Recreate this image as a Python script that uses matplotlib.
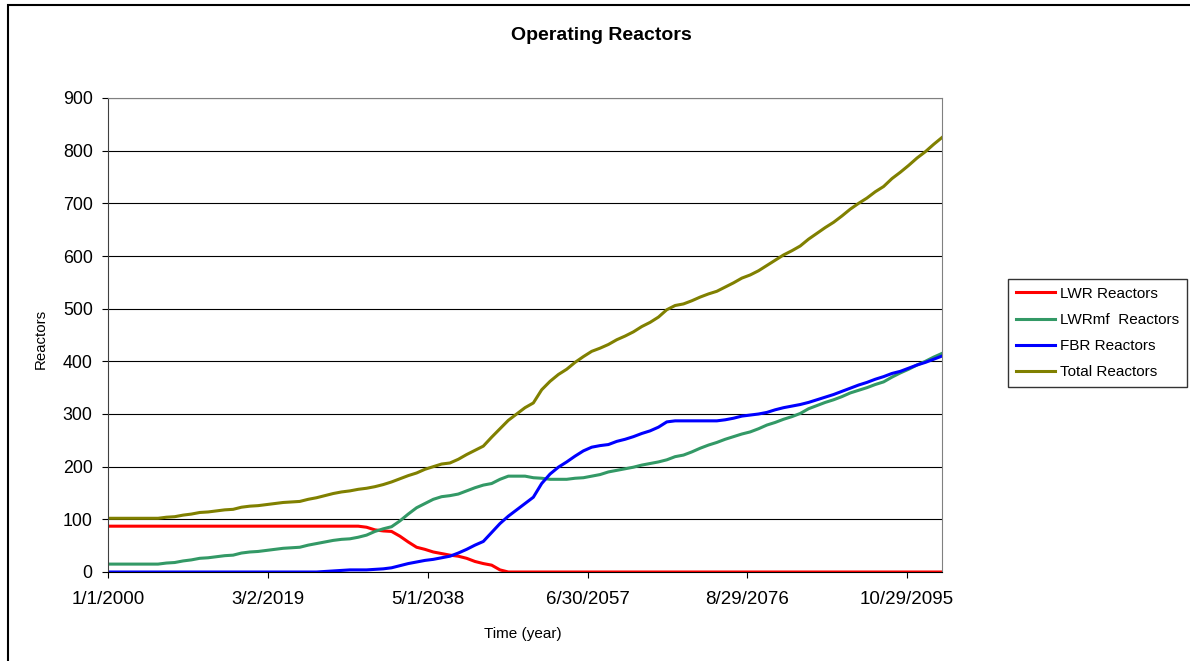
import datetime as dt
import matplotlib
matplotlib.use("Agg")
import matplotlib.pyplot as plt
from matplotlib.patches import Rectangle

# Dades anuals 2000-2100 (llegides del gràfic)
anys = list(range(2000, 2101))

lwr = [87] * 31 + [85, 80, 78, 77, 68, 57, 47, 43, 38, 35,
                   32, 30, 26, 20, 16, 13, 4] + [0] * 53

lwrmf = [15, 15, 15, 15, 15, 15, 15, 17, 18, 21,
         23, 26, 27, 29, 31, 32, 36, 38, 39, 41,
         43, 45, 46, 47, 51, 54, 57, 60, 62, 63,
         66, 70, 77, 82, 86, 97, 110, 122, 130, 138,
         143, 145, 148, 154, 160, 165, 168, 176, 182, 182,
         182, 179, 178, 176, 176, 176, 178, 179, 182, 185,
         190, 193, 196, 199, 203, 206, 209, 213, 219, 222,
         228, 235, 241, 246, 252, 257, 262, 266, 272, 279,
         284, 290, 295, 301, 310, 316, 322, 327, 333, 340,
         345, 350, 356, 361, 370, 378, 385, 393, 400, 408,
         415]

fbr = [0] * 26 + [1, 2, 3, 4,
                  4, 4, 5, 6, 8, 12, 16, 19, 22, 24,
                  27, 30, 36, 43, 51, 58, 75, 92, 106, 118,
                  130, 142, 168, 186, 199, 209, 220, 230, 237, 240,
                  242, 248, 252, 257, 263, 268, 275, 285, 287, 287,
                  287, 287, 287, 287, 289, 292, 296, 298, 300, 303,
                  308, 312, 315, 318, 322, 327, 332, 337, 343, 349,
                  355, 360, 366, 371, 377, 381, 387, 393, 398, 404,
                  410]

total = [102, 102, 102, 102, 102, 102, 102, 104, 105, 108,
         110, 113, 114, 116, 118, 119, 123, 125, 126, 128,
         130, 132, 133, 134, 138, 141, 145, 149, 152, 154,
         157, 159, 162, 166, 171, 177, 183, 188, 195, 200,
         205, 207, 214, 223, 231, 239, 256, 272, 288, 300,
         312, 321, 346, 362, 375, 385, 398, 409, 419, 425,
         432, 441, 448, 456, 466, 474, 484, 498, 506, 509,
         515, 522, 528, 533, 541, 549, 558, 564, 572, 582,
         592, 602, 610, 619, 632, 643, 654, 664, 676, 689,
         700, 710, 722, 732, 747, 759, 772, 786, 798, 812,
         825]

tick_labels = ["1/1/2000", "3/2/2019", "5/1/2038", "6/30/2057", "8/29/2076", "10/29/2095"]

dates = [dt.datetime(a, 1, 1) for a in anys]
tick_dates = [dt.datetime.strptime(t, "%m/%d/%Y") for t in tick_labels]

plt.rcParams["font.family"] = ["Liberation Sans", "DejaVu Sans"]

fig = plt.figure(figsize=(11.9, 6.61), dpi=100)
ax = fig.add_axes([108 / 1190, 89 / 661, 834 / 1190, 474 / 661])

ax.plot(dates, lwr, color="#FF0000", lw=2.2, label="LWR Reactors")
ax.plot(dates, lwrmf, color="#339966", lw=2.2, label="LWRmf  Reactors")
ax.plot(dates, fbr, color="#0000FF", lw=2.2, label="FBR Reactors")
ax.plot(dates, total, color="#808000", lw=2.2, label="Total Reactors")

ax.set_xlim(dates[0], dates[-1])
ax.set_ylim(0, 900)
ax.set_yticks(range(0, 901, 100))
ax.set_xticks(tick_dates)
ax.set_xticklabels(tick_labels)
ax.tick_params(axis="both", direction="out", length=4.5, colors="black")
ax.tick_params(axis="y", labelsize=12.8, pad=6.5)
ax.tick_params(axis="x", labelsize=13.5, pad=9)
ax.grid(True, axis="y", color="black", lw=0.8)
ax.set_axisbelow(True)

for side in ["top", "right"]:
    ax.spines[side].set_color("#808080")
ax.spines["left"].set_color("#404040")
ax.spines["bottom"].set_color("black")

ax.set_xlabel("Time (year)", fontsize=11)
ax.set_ylabel("Reactors", fontsize=10.8)
ax.xaxis.set_label_coords(415 / 834, -55 / 474)
ax.yaxis.set_label_coords(-60 / 834, 233 / 474)

fig.text(601 / 1190, 1 - 35 / 661, "Operating Reactors", ha="center", va="center",
         fontsize=14, fontweight="bold")

fig.legend(loc="upper left", bbox_to_anchor=(1008 / 1190, 1 - 279 / 661),
           fontsize=11, frameon=True, fancybox=False, edgecolor="black",
           handlelength=2.6, handletextpad=0.3, borderpad=0.5, labelspacing=0.8,
           borderaxespad=0)

fig.patches.append(Rectangle((8 / 1190, -0.1), 1.2, 1.1 - 5 / 661, transform=fig.transFigure,
                             fill=False, edgecolor="black", lw=1.5))

fig.savefig("out.png", dpi=100)
